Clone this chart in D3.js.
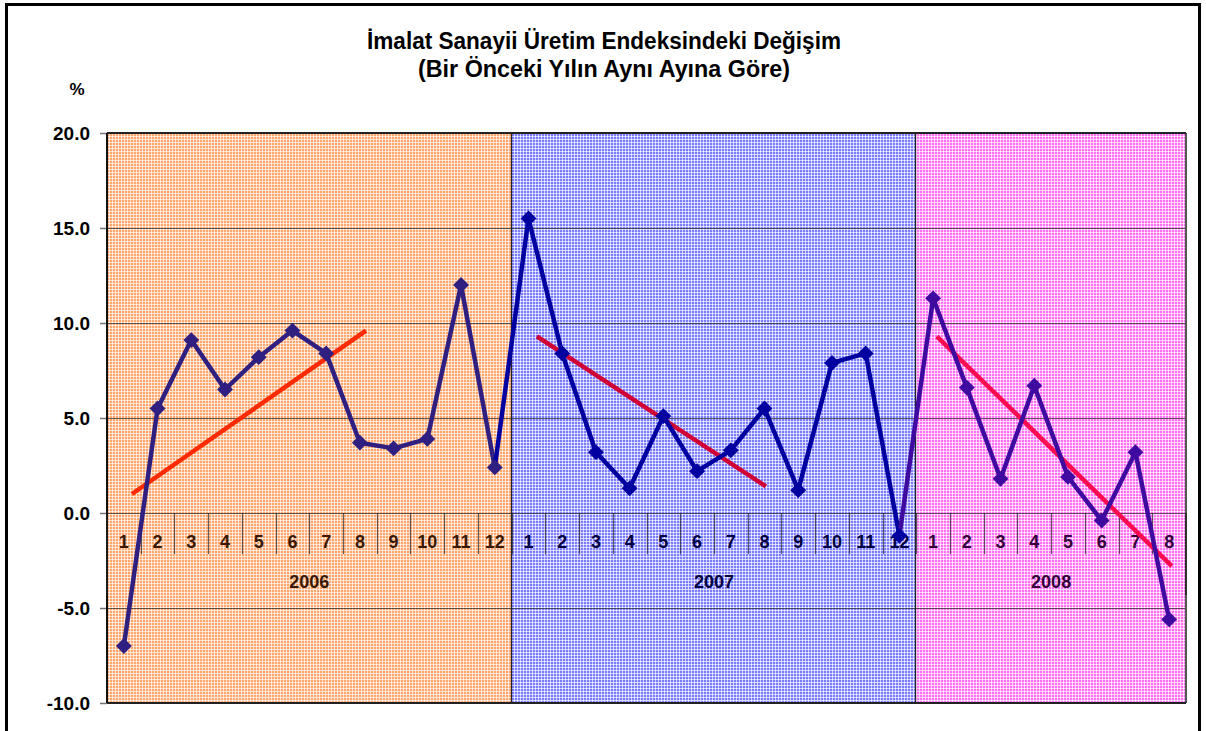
<!DOCTYPE html>
<html><head><meta charset="utf-8">
<script src="https://cdn.jsdelivr.net/npm/d3@7"></script>
<style>html,body{margin:0;padding:0;background:#fff;}svg{display:block;}</style>
</head><body>
<svg id="chart" width="1206" height="731"></svg>
<script>
// ---- data ----
const years = ["2006", "2007", "2008"];
const monthLabels = ["1","2","3","4","5","6","7","8","9","10","11","12"];
const values2006 = [-7.0, 5.5, 9.1, 6.5, 8.2, 9.6, 8.4, 3.7, 3.4, 3.9, 12.0, 2.4];
const values2007 = [15.5, 8.4, 3.2, 1.3, 5.1, 2.2, 3.3, 5.5, 1.2, 7.9, 8.4, -1.2];
const values2008 = [11.3, 6.6, 1.8, 6.7, 1.9, -0.4, 3.2, -5.6];
const yTicks = [-10, -5, 0, 5, 10, 15, 20];
// trend lines: [startMonth, startValue, endMonth, endValue]
const trend2006 = [1.24, 1.0, 8.18, 9.6];
const trend2007 = [1.25, 9.3, 8.04, 1.4];
const trend2008 = [1.11, 9.3, 8.08, -2.8];
const titleLines = ["İmalat Sanayii Üretim Endeksindeki Değişim", "(Bir Önceki Yılın Aynı Ayına Göre)"];
const unitLabel = "%";

// ---- styles ----
const yearStyle = {
  "2006": {base:"#ffa66c", line:"#2e1f80", text:"#3a1800", trend:"#ff2a00"},
  "2007": {base:"#7c7cff", line:"#0000a0", text:"#000040", trend:"#d10035"},
  "2008": {base:"#ff70f4", line:"#3f0aa0", text:"#33003a", trend:"#ff0a50"}
};

const svg = d3.select("#chart");
const plot = {left:107, right:1186, top:133, bottom:703};

const series = [values2006, values2007, values2008];
const points = [];
series.forEach((arr, yi) => arr.forEach((v, mi) => points.push({year: years[yi], month: mi + 1, value: v})));
const nMonths = points.length;

const x = d3.scaleLinear().domain([0, nMonths]).range([plot.left, plot.right]);
const y = d3.scaleLinear().domain([-10, 20]).range([plot.bottom, plot.top]);
const yearStartIdx = {}; let acc = 0;
years.forEach((yr, i) => { yearStartIdx[yr] = acc; acc += series[i].length; });
const xm = (yr, m) => x(yearStartIdx[yr] + m - 0.5);

// patterns (plaid)
const defs = svg.append("defs");
years.forEach(yr => {
  const s = yearStyle[yr];
  const p = defs.append("pattern").attr("id", "pat" + yr).attr("patternUnits", "userSpaceOnUse")
    .attr("width", 3).attr("height", 3);
  p.append("rect").attr("width", 3).attr("height", 3).attr("fill", s.base);
  p.append("rect").attr("x", 1).attr("y", 0).attr("width", 1).attr("height", 3).attr("fill", "#fff").attr("opacity", 0.65);
  p.append("rect").attr("x", 0).attr("y", 1).attr("width", 3).attr("height", 1).attr("fill", "#fff").attr("opacity", 0.65);
});

// outer border
svg.append("rect").attr("x", 6.5).attr("y", 4.5).attr("width", 1193).attr("height", 760)
  .attr("fill", "none").attr("stroke", "#000").attr("stroke-width", 3);

// backgrounds
years.forEach((yr, i) => {
  svg.append("rect").attr("x", x(yearStartIdx[yr])).attr("y", plot.top)
    .attr("width", x(yearStartIdx[yr] + series[i].length) - x(yearStartIdx[yr]))
    .attr("height", plot.bottom - plot.top).attr("fill", "url(#pat" + yr + ")");
});

// horizontal gridlines
svg.append("g").selectAll("line").data(yTicks).join("line")
  .attr("x1", plot.left).attr("x2", plot.right)
  .attr("y1", d => Math.round(y(d)) + 0.5).attr("y2", d => Math.round(y(d)) + 0.5)
  .attr("stroke", "#2a2a2a").attr("stroke-opacity", 0.75).attr("stroke-width", 1.2);

// y axis
const fmt = d => d3.format(".1f")(d).replace("−", "-");
const yAxis = d3.axisLeft(y).tickValues(yTicks).tickSize(7).tickPadding(10).tickFormat(fmt);
const ya = svg.append("g").attr("transform", `translate(${plot.left},0)`).call(yAxis);
ya.select(".domain").remove();
ya.selectAll(".tick line").attr("stroke", "#777").attr("stroke-width", 1.5);
ya.selectAll(".tick text").attr("font-family", "Liberation Sans, Arial, sans-serif")
  .attr("font-size", 19).attr("font-weight", "bold").attr("fill", "#000");

// year separators & plot frame
[1, 2].forEach(i => {
  const xx = Math.round(x(yearStartIdx[years[i]])) - 0.5;
  svg.append("line").attr("x1", xx).attr("x2", xx).attr("y1", plot.top).attr("y2", plot.bottom)
    .attr("stroke", "#222").attr("stroke-width", 1.3);
});
svg.append("line").attr("x1", plot.left).attr("x2", plot.left).attr("y1", plot.top).attr("y2", plot.bottom)
  .attr("stroke", "#111").attr("stroke-width", 2);
svg.append("line").attr("x1", plot.right).attr("x2", plot.right).attr("y1", plot.top).attr("y2", plot.bottom)
  .attr("stroke", "#555").attr("stroke-width", 2);
svg.append("line").attr("x1", plot.left).attr("x2", plot.right).attr("y1", plot.top).attr("y2", plot.top)
  .attr("stroke", "#222").attr("stroke-width", 2);
svg.append("line").attr("x1", plot.left).attr("x2", plot.right).attr("y1", plot.bottom).attr("y2", plot.bottom)
  .attr("stroke", "#222").attr("stroke-width", 2);

// category axis: month ticks and labels
const y0 = y(0);
const catG = svg.append("g");
catG.selectAll("line.mt").data(d3.range(1, nMonths)).join("line").attr("class", "mt")
  .attr("x1", d => Math.round(x(d)) + 0.5).attr("x2", d => Math.round(x(d)) + 0.5)
  .attr("y1", y0).attr("y2", y0 + 41).attr("stroke", "#222").attr("stroke-opacity", 0.7).attr("stroke-width", 1.2);
[0, nMonths].forEach(d => {
  catG.append("line").attr("x1", x(d)).attr("x2", x(d)).attr("y1", y0).attr("y2", y0 + 82)
    .attr("stroke", "#222").attr("stroke-width", 1.5);
});
catG.selectAll("text.ml").data(points).join("text").attr("class", "ml")
  .attr("x", d => xm(d.year, d.month)).attr("y", y0 + 35)
  .attr("text-anchor", "middle").attr("font-family", "Liberation Sans, Arial, sans-serif")
  .attr("font-size", 18).attr("font-weight", "bold").attr("fill", d => yearStyle[d.year].text)
  .text(d => monthLabels[d.month - 1]);
catG.selectAll("text.yl").data(years).join("text").attr("class", "yl")
  .attr("x", (yr, i) => x(yearStartIdx[yr] + series[i].length / 2)).attr("y", y0 + 75)
  .attr("text-anchor", "middle").attr("font-family", "Liberation Sans, Arial, sans-serif")
  .attr("font-size", 18).attr("font-weight", "bold").attr("fill", yr => yearStyle[yr].text)
  .text(d => d);

// trend lines
[[trend2006, "2006"], [trend2007, "2007"], [trend2008, "2008"]].forEach(([t, yr]) => {
  svg.append("line").attr("x1", xm(yr, t[0])).attr("y1", y(t[1])).attr("x2", xm(yr, t[2])).attr("y2", y(t[3]))
    .attr("stroke", yearStyle[yr].trend).attr("stroke-width", 4.5);
});

// data line segments (colored by end point year)
const segs = d3.pairs(points);
svg.append("g").selectAll("line").data(segs).join("line")
  .attr("x1", d => xm(d[0].year, d[0].month)).attr("y1", d => y(d[0].value))
  .attr("x2", d => xm(d[1].year, d[1].month)).attr("y2", d => y(d[1].value))
  .attr("stroke", d => yearStyle[d[1].year].line).attr("stroke-width", 4.5).attr("stroke-linecap", "round");

// markers
const diamond = d3.symbol().type(d3.symbolDiamond2).size(160);
svg.append("g").selectAll("path").data(points).join("path")
  .attr("transform", d => `translate(${xm(d.year, d.month)},${y(d.value)})`)
  .attr("d", diamond).attr("fill", d => yearStyle[d.year].line);

// title
const title = svg.append("g").attr("font-family", "Liberation Sans, Arial, sans-serif")
  .attr("font-weight", "bold").attr("text-anchor", "middle").attr("fill", "#000");
title.append("text").attr("x", 604).attr("y", 49).attr("font-size", 23).attr("textLength", 474)
  .attr("lengthAdjust", "spacingAndGlyphs").text(titleLines[0]);
title.append("text").attr("x", 604).attr("y", 77).attr("font-size", 23).attr("textLength", 372)
  .attr("lengthAdjust", "spacingAndGlyphs").text(titleLines[1]);

svg.append("text").attr("x", 77).attr("y", 95).attr("text-anchor", "middle")
  .attr("font-family", "Liberation Sans, Arial, sans-serif").attr("font-size", 17).attr("font-weight", "bold")
  .text(unitLabel);
</script>
</body></html>
